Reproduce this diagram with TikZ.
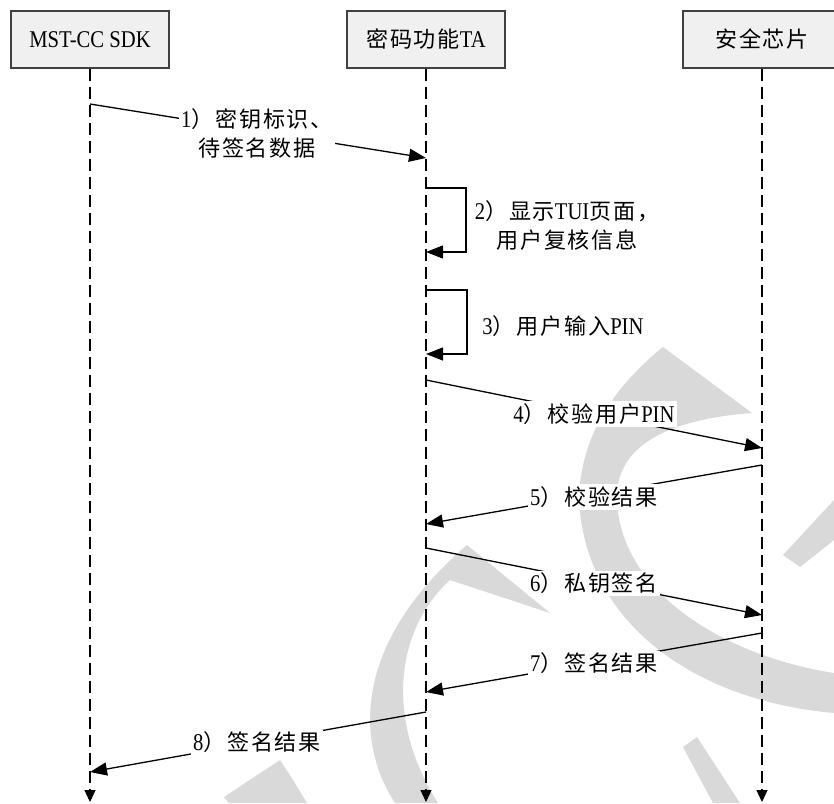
\documentclass[tikz,border=0pt]{standalone}
\usepackage{fontspec}
\setmainfont{Liberation Serif}[FakeStretch=0.86]
\newfontfamily\cjk[Scale=0.92,LetterSpace=8]{Noto Sans CJK SC}
\usetikzlibrary{arrows.meta}
\begin{document}
\begin{tikzpicture}[x=1pt,y=-1pt,
  lbl/.style={font=\fontsize{24}{29}\selectfont, fill=white, inner sep=2pt, align=center},
  hdr/.style={draw=black!75, fill=black!6, line width=1.2pt, minimum width=158pt, minimum height=57pt, inner sep=0pt, font=\fontsize{24}{25}\selectfont},
  life/.style={line width=1.1pt, dash pattern=on 12pt off 6pt, -{Triangle[length=12pt,width=11pt]}},
  msg/.style={line width=1.3pt, -{Triangle[length=17pt,width=13pt]}},
  wm/.style={fill=black!15, draw=none}
]
\useasboundingbox (0,0) rectangle (834,803);
\clip (0,0) rectangle (834,803);
% watermark
\fill[wm] (663,347) .. controls (610,390) and (580,440) .. (579,500)
  .. controls (585,620) and (690,700) .. (834,713) -- (834,673)
  .. controls (720,655) and (620,590) .. (617,500)
  .. controls (615,450) and (660,420) .. (752,413) -- cycle;
\fill[wm] (395,803) .. controls (360,750) and (345,650) .. (467,545) -- (550,613) -- (450,580)
  .. controls (395,630) and (385,720) .. (438,803) -- cycle;
\fill[wm] (224,797) -- (280,760) -- (293,780) -- (307,803) -- (229,803) -- cycle;
\fill[wm] (783,555) -- (834,500) -- (834,540) -- (800,567) -- cycle;
\fill[wm] (683,747) -- (697,737) -- (740,803) -- (713,803) -- cycle;
% headers
\node[hdr] (sdk) at (90,39.5) {MST-CC SDK};
\node[hdr] (ta) at (426,39.5) {{\cjk 密码功能}TA};
\node[hdr] (se) at (762,39.5) {{\cjk 安全芯片}};
% lifelines
\coordinate (sdkend) at (90,802);
\coordinate (taend) at (426,802);
\coordinate (seend) at (762,802);
\draw[life] (sdk.south) -- (sdkend);
\draw[life] (ta.south) -- (taend);
\draw[life] (se.south) -- (seend);
% message end points
\coordinate (m1a) at (90,104);  \coordinate (m1b) at (426,158);
\coordinate (m2a) at (426,188); \coordinate (m2b) at (426,252);
\coordinate (m3a) at (426,290); \coordinate (m3b) at (426,354);
\coordinate (m4a) at (426,380); \coordinate (m4b) at (762,448);
\coordinate (m5a) at (762,465); \coordinate (m5b) at (426,524);
\coordinate (m6a) at (426,548); \coordinate (m6b) at (762,615);
\coordinate (m7a) at (762,633); \coordinate (m7b) at (426,692);
\coordinate (m8a) at (426,712); \coordinate (m8b) at (90,772);
% messages
\draw[msg] (m1a) -- (m1b);
\draw[msg] (m2a) -- ++(40,0) |- (m2b);
\draw[msg] (m3a) -- ++(41,0) |- (m3b);
\draw[msg] (m4a) -- (m4b);
\draw[msg] (m5a) -- (m5b);
\draw[msg] (m6a) -- (m6b);
\draw[msg] (m7a) -- (m7b);
\draw[msg] (m8a) -- (m8b);
% labels
\node[lbl] (l1) at (257,133) {1{\cjk ）密钥标识、}\\{\cjk 待签名数据}};
\node[lbl, fill=none] (l2) at (567,225) {2{\cjk ）显示}TUI{\cjk 页面，}\\{\cjk 用户复核信息}};
\node[lbl, fill=none] (l3) at (563,326) {3{\cjk ）用户输入}PIN};
\node[lbl] (l4) at (594,414) {4{\cjk ）校验用户}PIN};
\node[lbl] (l5) at (594,497) {5{\cjk ）校验结果}};
\node[lbl] (l6) at (594,583) {6{\cjk ）私钥签名}};
\node[lbl] (l7) at (594,663) {7{\cjk ）签名结果}};
\node[lbl] (l8) at (257,742) {8{\cjk ）签名结果}};
\end{tikzpicture}
\end{document}
